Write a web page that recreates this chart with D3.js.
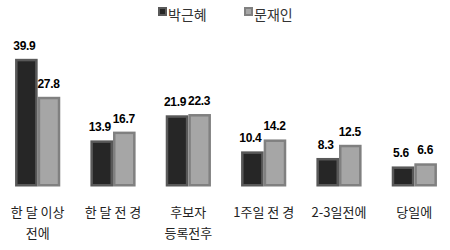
<!DOCTYPE html>
<html>
<head>
<meta charset="utf-8">
<script src="https://cdn.jsdelivr.net/npm/d3@7"></script>
<style>
  body { margin: 0; background: #fff; }
</style>
</head>
<body>
<div id="viz"></div>
<script>
const categories = [["한 달 이상", "전에"], ["한 달 전 경"], ["후보자", "등록전후"], ["1주일 전 경"], ["2-3일전에"], ["당일에"]];
const seriesNames = ["박근혜", "문재인"];
const park = [39.9, 13.9, 21.9, 10.4, 8.3, 5.6];
const moon = [27.8, 16.7, 22.3, 14.2, 12.5, 6.6];

const fills = ["#262626", "#a6a6a6"];
const strokes = ["#595959", "#808080"];

const width = 450, height = 250;

const svg = d3.select("#viz").append("svg")
  .attr("width", width)
  .attr("height", height);

const x0 = d3.scaleBand()
  .domain(d3.range(categories.length))
  .range([0, 452])
  .paddingInner(0.4)
  .paddingOuter(0.2);

const x1 = d3.scaleBand()
  .domain([0, 1])
  .range([0, x0.bandwidth()]);

const y = d3.scaleLinear()
  .domain([0, 40])
  .range([184, 58.5]);

const rows = categories.map((c, i) => ({ i, vals: [park[i], moon[i]] }));

const groups = svg.selectAll("g.grp")
  .data(rows)
  .enter().append("g")
  .attr("class", "grp")
  .attr("transform", d => "translate(" + x0(d.i) + ",0)");

const sw = 2.5;

groups.selectAll("rect")
  .data(d => d.vals.map((v, k) => ({ v, k })))
  .enter().append("rect")
  .attr("x", d => x1(d.k) + sw / 2)
  .attr("width", x1.bandwidth() - sw)
  .attr("y", d => y(d.v) + sw / 2)
  .attr("height", d => y(0) - y(d.v))
  .attr("fill", d => fills[d.k])
  .attr("stroke", d => strokes[d.k])
  .attr("stroke-width", sw);

// value labels, nudged a bit left like the original
groups.selectAll("text.val")
  .data(d => d.vals.map((v, k) => ({ v, k })))
  .enter().append("text")
  .attr("class", "val")
  .attr("x", d => x1(d.k) + x1.bandwidth() / 2 - (d.k === 0 ? 2 : 0.5))
  .attr("y", d => y(d.v) - 9)
  .attr("text-anchor", "middle")
  .style("font-family", "'Liberation Sans', Arial, sans-serif")
  .style("font-weight", "bold")
  .style("font-size", "12px")
  .style("letter-spacing", "-0.3px")
  .style("fill", "#000")
  .text(d => d.v.toFixed(1));

groups.each(function(d) {
  const t = d3.select(this).append("text")
    .attr("text-anchor", "middle")
    .style("font-family", "'Noto Sans CJK KR', sans-serif")
    .style("font-size", "13px")
    .style("fill", "#222");
  categories[d.i].forEach((line, j) => {
    t.append("tspan")
      .attr("x", x0.bandwidth() / 2)
      .attr("y", 217 + j * 21)
      .text(line);
  });
});

// legend
const legendX = [158, 244];
const legend = svg.selectAll("g.leg")
  .data(seriesNames)
  .enter().append("g")
  .attr("class", "leg")
  .attr("transform", (d, i) => "translate(" + legendX[i] + ",7)");

legend.append("rect")
  .attr("x", 1).attr("y", 1)
  .attr("width", 7).attr("height", 7)
  .attr("fill", (d, i) => fills[i])
  .attr("stroke", (d, i) => strokes[i])
  .attr("stroke-width", 2);

legend.append("text")
  .attr("x", 10)
  .attr("y", 12.5)
  .style("font-family", "'Noto Sans CJK KR', sans-serif")
  .style("font-size", "14px")
  .style("fill", "#333")
  .text(d => d);
</script>
</body>
</html>
